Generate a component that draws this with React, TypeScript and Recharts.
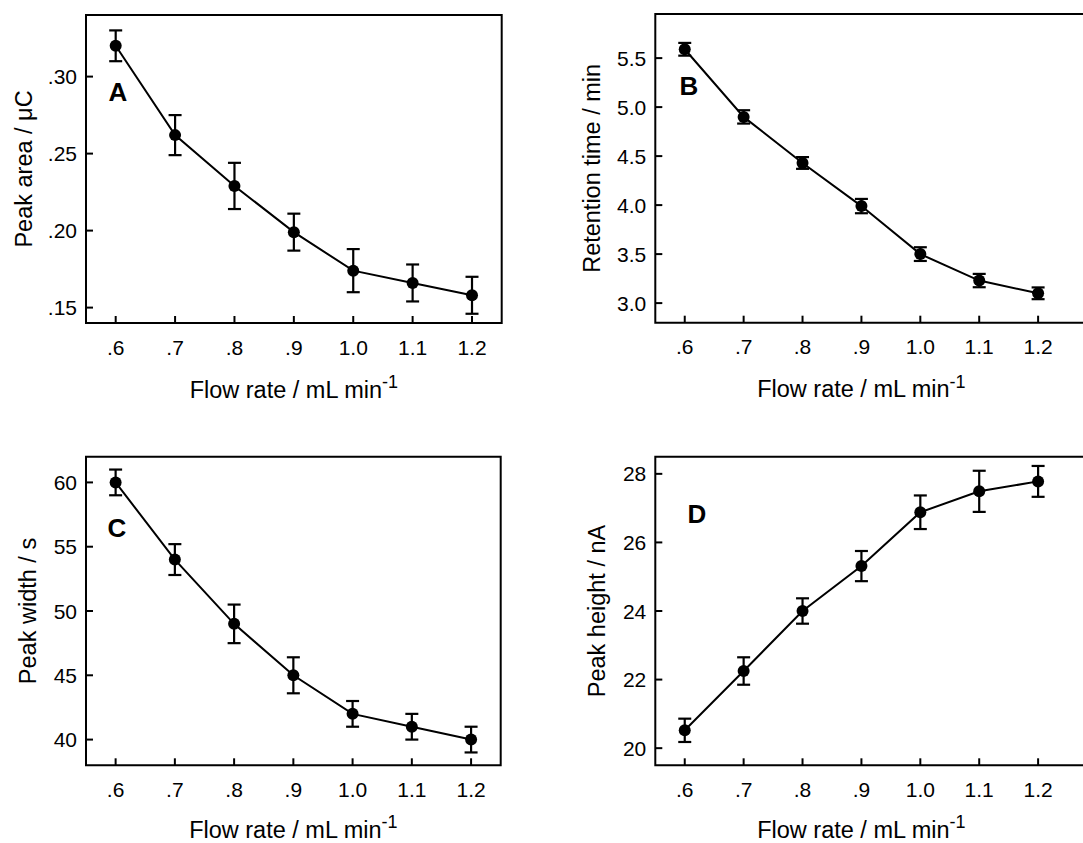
import React from 'react';
import { LineChart, Line, XAxis, YAxis, ErrorBar, ReferenceArea, Label } from 'recharts';

const FONT = '"Liberation Sans", Arial, Helvetica, sans-serif';

// ---- data ----
const flowRates = [0.6, 0.7, 0.8, 0.9, 1.0, 1.1, 1.2];
const xTickLabels = ['.6', '.7', '.8', '.9', '1.0', '1.1', '1.2'];

const peakArea = [0.320, 0.262, 0.229, 0.199, 0.174, 0.166, 0.158];
const peakAreaErr = [0.010, 0.013, 0.015, 0.012, 0.014, 0.012, 0.012];
const peakAreaTicks = [0.15, 0.2, 0.25, 0.3];
const peakAreaTickLabels = ['.15', '.20', '.25', '.30'];

const retentionTime = [5.59, 4.90, 4.43, 3.99, 3.50, 3.23, 3.10];
const retentionTimeErr = [0.065, 0.068, 0.06, 0.073, 0.07, 0.068, 0.06];
const retentionTicks = [3.0, 3.5, 4.0, 4.5, 5.0, 5.5];
const retentionTickLabels = ['3.0', '3.5', '4.0', '4.5', '5.0', '5.5'];

const peakWidth = [60, 54, 49, 45, 42, 41, 40];
const peakWidthErr = [1.0, 1.2, 1.5, 1.4, 1.0, 1.0, 1.0];
const widthTicks = [40, 45, 50, 55, 60];
const widthTickLabels = ['40', '45', '50', '55', '60'];

const peakHeight = [20.52, 22.25, 24.0, 25.31, 26.88, 27.49, 27.78];
const peakHeightErr = [0.34, 0.40, 0.37, 0.44, 0.49, 0.60, 0.45];
const heightTicks = [20, 22, 24, 26, 28];
const heightTickLabels = ['20', '22', '24', '26', '28'];

const build = (ys: number[], errs: number[]) =>
  flowRates.map((x, i) => ({ x, y: ys[i], err: errs[i] }));

const xTitleCenterValue = 0.9;
const Y_AXIS_W = 60;
const X_AXIS_H = 40;
const TICK_FS = 21;
const TITLE_FS = 23.5;

type PanelProps = {
  left: number;
  top: number;
  width: number;
  height: number;
  plot: { top: number; right: number; bottom: number; left: number };
  xDomain: [number, number];
  yDomain: [number, number];
  data: { x: number; y: number; err: number }[];
  yTicks: number[];
  yTickLabels: string[];
  yTitle: string;
  yTitleGap: number;
  xTitleGap: number;
  letter: string;
  letterX: number;
  letterY: number;
};

function Panel(p: PanelProps) {
  const plotL = p.plot.left;
  const plotT = p.plot.top;
  const plotR = p.width - p.plot.right;
  const plotB = p.height - p.plot.bottom;
  const titleX =
    plotL + ((xTitleCenterValue - p.xDomain[0]) / (p.xDomain[1] - p.xDomain[0])) * (plotR - plotL);
  const yMid = (plotT + plotB) / 2;
  const margin = {
    top: p.plot.top,
    right: p.plot.right,
    left: p.plot.left - Y_AXIS_W,
    bottom: p.plot.bottom - X_AXIS_H,
  };

  const XTick = (props: any) => {
    const { x, payload } = props;
    const idx = flowRates.findIndex((v) => Math.abs(v - payload.value) < 1e-9);
    return (
      <g>
        <line x1={x} y1={plotB} x2={x} y2={plotB - 7} stroke="#000" strokeWidth={2} />
        <text x={x} y={plotB + 31.5} textAnchor="middle" fontSize={TICK_FS} fill="#000" fontFamily={FONT}>
          {idx >= 0 ? xTickLabels[idx] : ''}
        </text>
      </g>
    );
  };

  const YTick = (props: any) => {
    const { y, payload } = props;
    const idx = p.yTicks.findIndex((v) => Math.abs(v - payload.value) < 1e-9);
    return (
      <g>
        <line x1={plotL} y1={y} x2={plotL + 7} y2={y} stroke="#000" strokeWidth={2} />
        <text x={plotL - 9} y={y + 7.5} textAnchor="end" fontSize={TICK_FS} fill="#000" fontFamily={FONT}>
          {idx >= 0 ? p.yTickLabels[idx] : ''}
        </text>
      </g>
    );
  };

  const xTitle = () => (
    <text x={titleX} y={plotB + p.xTitleGap} textAnchor="middle" fontSize={TITLE_FS} fill="#000" fontFamily={FONT}>
      Flow rate / mL min
      <tspan dy={-9.5} fontSize={18}>-1</tspan>
    </text>
  );

  const yTitle = () => (
    <g>
      <text
        x={plotL - p.yTitleGap}
        y={yMid}
        transform={`rotate(-90, ${plotL - p.yTitleGap}, ${yMid})`}
        textAnchor="middle"
        fontSize={TITLE_FS}
        fill="#000"
        fontFamily={FONT}
      >
        {p.yTitle}
      </text>
      <text
        x={p.letterX}
        y={p.letterY}
        textAnchor="middle"
        fontSize={26}
        fontWeight="bold"
        fill="#000"
        fontFamily={FONT}
      >
        {p.letter}
      </text>
    </g>
  );

  return (
    <div style={{ position: 'absolute', left: p.left, top: p.top, width: p.width, height: p.height }}>
      <LineChart width={p.width} height={p.height} data={p.data} margin={margin}>
        <XAxis
          dataKey="x"
          type="number"
          domain={p.xDomain}
          ticks={flowRates}
          interval={0}
          allowDataOverflow
          height={X_AXIS_H}
          tickSize={0}
          tickMargin={0}
          axisLine={false}
          tickLine={false}
          tick={XTick}
        >
          <Label content={xTitle} />
        </XAxis>
        <YAxis
          type="number"
          domain={p.yDomain}
          ticks={p.yTicks}
          interval={0}
          allowDataOverflow
          width={Y_AXIS_W}
          tickSize={0}
          tickMargin={0}
          axisLine={false}
          tickLine={false}
          tick={YTick}
        >
          <Label content={yTitle} />
        </YAxis>
        <ReferenceArea
          x1={p.xDomain[0]}
          x2={p.xDomain[1]}
          y1={p.yDomain[0]}
          y2={p.yDomain[1]}
          fill="none"
          fillOpacity={0}
          stroke="#000"
          strokeWidth={2}
          ifOverflow="visible"
        />
        <Line
          type="linear"
          dataKey="y"
          stroke="#000"
          strokeWidth={2}
          dot={{ r: 6, fill: '#000', stroke: '#000', strokeWidth: 0 }}
          activeDot={false}
          isAnimationActive={false}
        >
          <ErrorBar dataKey="err" direction="y" width={6.5} stroke="#000" strokeWidth={2.2} isAnimationActive={false} />
        </Line>
      </LineChart>
    </div>
  );
}

export default function App() {
  return (
    <div
      style={{
        position: 'absolute',
        left: 0,
        top: 0,
        width: 1083,
        height: 843,
        overflow: 'hidden',
        background: '#fff',
      }}
    >
      <Panel
        left={0}
        top={0}
        width={540}
        height={420}
        plot={{ top: 15, left: 86, right: 38.3, bottom: 97 }}
        xDomain={[0.55, 1.25]}
        yDomain={[0.14, 0.34]}
        data={build(peakArea, peakAreaErr)}
        yTicks={peakAreaTicks}
        yTickLabels={peakAreaTickLabels}
        yTitle="Peak area / μC"
        yTitleGap={54}
        xTitleGap={74.5}
        letter="A"
        letterX={118}
        letterY={101}
      />
      <Panel
        left={540}
        top={0}
        width={600}
        height={420}
        plot={{ top: 14, left: 115.3, right: 43, bottom: 97.3 }}
        xDomain={[0.55, 1.3]}
        yDomain={[2.8, 5.95]}
        data={build(retentionTime, retentionTimeErr)}
        yTicks={retentionTicks}
        yTickLabels={retentionTickLabels}
        yTitle="Retention time / min"
        yTitleGap={55}
        xTitleGap={74.5}
        letter="B"
        letterX={149}
        letterY={95}
      />
      <Panel
        left={0}
        top={420}
        width={540}
        height={423}
        plot={{ top: 36.7, left: 86, right: 39.3, bottom: 77.7 }}
        xDomain={[0.55, 1.25]}
        yDomain={[38, 62]}
        data={build(peakWidth, peakWidthErr)}
        yTicks={widthTicks}
        yTickLabels={widthTickLabels}
        yTitle="Peak width / s"
        yTitleGap={50}
        xTitleGap={72.5}
        letter="C"
        letterX={117}
        letterY={117}
      />
      <Panel
        left={540}
        top={420}
        width={600}
        height={423}
        plot={{ top: 36.7, left: 115.3, right: 43, bottom: 77.7 }}
        xDomain={[0.55, 1.3]}
        yDomain={[19.5, 28.5]}
        data={build(peakHeight, peakHeightErr)}
        yTicks={heightTicks}
        yTickLabels={heightTickLabels}
        yTitle="Peak height / nA"
        yTitleGap={50}
        xTitleGap={72.5}
        letter="D"
        letterX={157}
        letterY={103}
      />
    </div>
  );
}
